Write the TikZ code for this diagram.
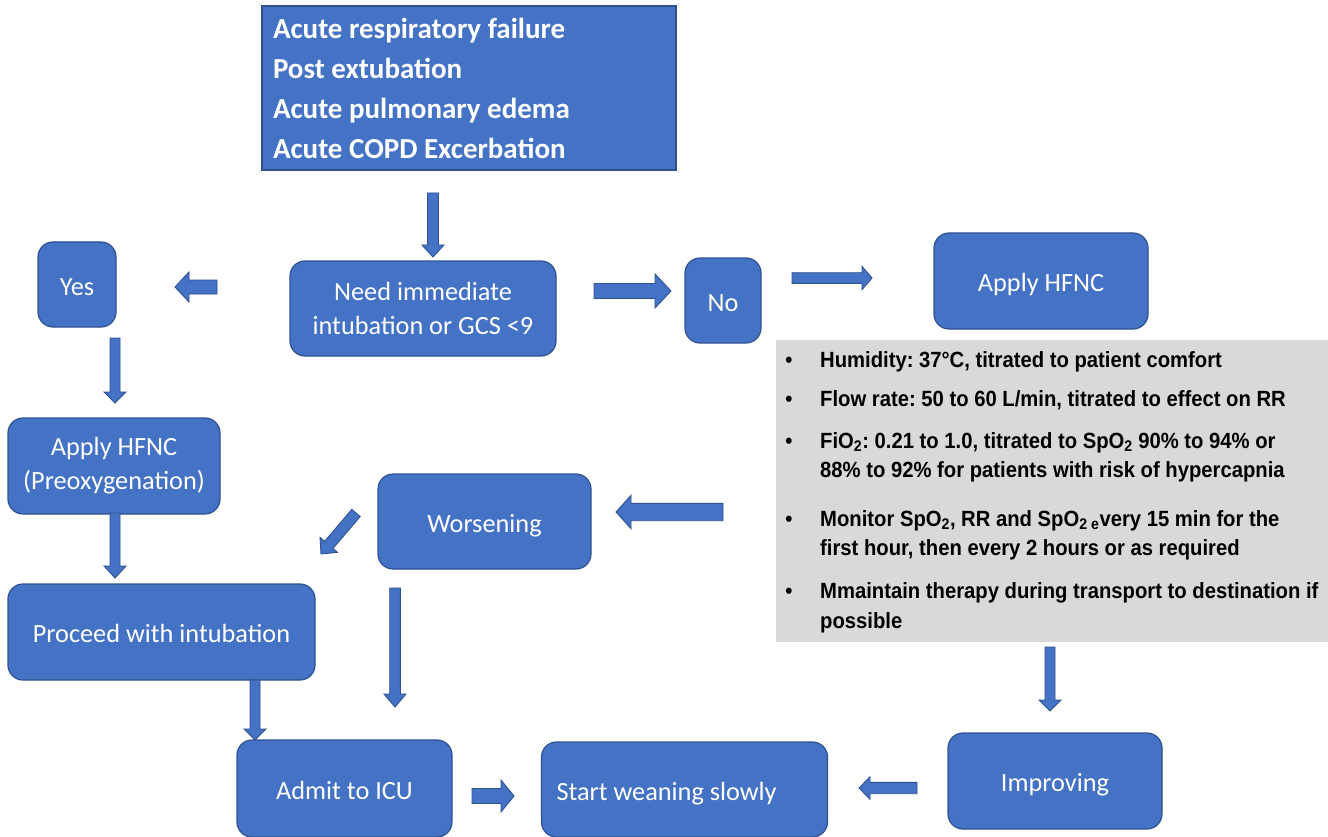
\documentclass[tikz,border=0pt]{standalone}
\usepackage{fontspec}
\setmainfont{Carlito}
\newfontfamily\arialc[FakeStretch=0.92]{Liberation Sans}
\usetikzlibrary{calc}
\definecolor{boxblue}{HTML}{4472C4}
\definecolor{boxline}{HTML}{2F528F}
\definecolor{greyfill}{HTML}{D9D9D9}
\frenchspacing
% block arrow: #1 start, #2 end, #3 shaft half width, #4 head half width, #5 head length
\newcommand\blockarrow[5]{%
  \coordinate (hb) at ($(#2)!#5pt!(#1)$);
  \path[barrow] ($(#1)!#3pt!90:(#2)$) -- ($(hb)!#3pt!90:(#2)$) -- ($(hb)!#4pt!90:(#2)$) -- (#2)
    -- ($(hb)!#4pt!-90:(#2)$) -- ($(hb)!#3pt!-90:(#2)$) -- ($(#1)!#3pt!-90:(#2)$) -- cycle;}
\begin{document}
\begin{tikzpicture}[x=1pt,y=-1pt,
  mbox/.style={rounded corners=15pt, fill=boxblue, draw=boxline, line width=1.2pt,
    text=white, font=\fontsize{26.3}{34}\selectfont, align=center, inner sep=0pt},
  box/.style={mbox, text height=21pt, text depth=0pt},
  topbox/.style={fill=boxblue, draw=boxline, line width=1.2pt, text=white,
    font=\bfseries\fontsize{29}{40}\selectfont, align=flush left, inner ysep=0pt, inner xsep=11pt},
  barrow/.style={fill=boxblue, draw=boxline, line width=0.9pt, line join=miter},
  gtxt/.style={font=\arialc\bfseries\fontsize{22}{29}\selectfont, text=black, inner sep=0pt}]
\fill[white] (0,0) rectangle (1328,837);
\useasboundingbox (0,0) rectangle (1328,837);
% boxes
\node[topbox, text width=392pt, minimum height=164pt] (top) at (469,88)
  {Acute respiratory failure\\Post extubation\\Acute pulmonary edema\\Acute COPD Excerbation};
\node[mbox, minimum width=266pt, minimum height=95pt] (need) at (423,308.5) {Need immediate\\intubation or GCS <9};
\node[box, minimum width=78pt, minimum height=85pt] (yes) at (77,284.5) {Yes};
\node[box, minimum width=76pt, minimum height=85pt] (no) at (723,300.5) {No};
\node[box, minimum width=214pt, minimum height=96pt] (hfnc) at (1041,281) {Apply HFNC};
\node[fill=greyfill, minimum width=552pt, minimum height=302pt, inner sep=0pt] (grey) at (1052,491) {};
\node[mbox, minimum width=212pt, minimum height=96pt] (pre) at (114,466) {Apply HFNC\\(Preoxygenation)};
\node[box, minimum width=307pt, minimum height=96pt] (proc) at (161.5,632) {Proceed with intubation};
\node[box, minimum width=213pt, minimum height=95pt] (wors) at (484.5,521.5) {Worsening};
\node[box, minimum width=215pt, minimum height=97pt] (icu) at (344.5,788.5) {Admit to ICU};
\node[box, text width=256pt, align=flush left, inner xsep=15pt, minimum height=95pt] (wean) at (684.5,789.5) {Start weaning slowly};
\node[box, minimum width=214pt, minimum height=96pt] (imp) at (1055,781) {Improving};
% grey box text
\foreach \yy in {367,406,448,526,598} \node[gtxt, anchor=base] at (789,\yy) {•};
\node[gtxt, anchor=base west] (g1) at (820,367) {Humidity: 37°C, titrated to patient comfort};
\node[gtxt, anchor=base west] (g2) at (820,406) {Flow rate: 50 to 60 L/min, titrated to effect on RR};
\node[gtxt, anchor=base west] (g3a) at (820,448) {FiO\textsubscript{2}: 0.21 to 1.0, titrated to SpO\textsubscript{2} 90\% to 94\% or};
\node[gtxt, anchor=base west] (g3b) at (820,477) {88\% to 92\% for patients with risk of hypercapnia};
\node[gtxt, anchor=base west] (g4a) at (820,526) {Monitor SpO\textsubscript{2}, RR and SpO\textsubscript{2 e}very 15 min for the};
\node[gtxt, anchor=base west] (g4b) at (820,555) {first hour, then every 2 hours or as required};
\node[gtxt, anchor=base west] (g5a) at (820,598) {Mmaintain therapy during transport to destination if};
\node[gtxt, anchor=base west] (g5b) at (820,628) {possible};
% arrow end points
\coordinate (a1s) at (433,193);  \coordinate (a1e) at (433,257);
\coordinate (a2s) at (217,287);  \coordinate (a2e) at (175,287);
\coordinate (a3s) at (594,291);  \coordinate (a3e) at (671,291);
\coordinate (a4s) at (792,278);  \coordinate (a4e) at (872,278);
\coordinate (a5s) at (115,338);  \coordinate (a5e) at (115,403);
\coordinate (a6s) at (115,513);  \coordinate (a6e) at (115,578);
\coordinate (a7s) at (255,680);  \coordinate (a7e) at (255,740);
\coordinate (a8s) at (395,588);  \coordinate (a8e) at (395,707);
\coordinate (a9s) at (356,513);  \coordinate (a9e) at (321,554);
\coordinate (a10s) at (472,796); \coordinate (a10e) at (514,796);
\coordinate (a11s) at (723,512); \coordinate (a11e) at (616,512);
\coordinate (a12s) at (1050,647); \coordinate (a12e) at (1050,711);
\coordinate (a13s) at (917,788); \coordinate (a13e) at (859,788);
% arrows
\blockarrow{a1s}{a1e}{5.5}{11}{12}
\blockarrow{a2s}{a2e}{7}{15}{14}
\blockarrow{a3s}{a3e}{7.5}{17}{16}
\blockarrow{a4s}{a4e}{5.3}{11.7}{10}
\blockarrow{a5s}{a5e}{5}{11}{11}
\blockarrow{a6s}{a6e}{5}{11}{12}
\blockarrow{a7s}{a7e}{5}{11}{11}
\blockarrow{a8s}{a8e}{5.3}{11}{13}
\blockarrow{a9s}{a9e}{5.5}{11.5}{12}
\blockarrow{a10s}{a10e}{7.5}{16}{13}
\blockarrow{a11s}{a11e}{8.7}{16.7}{15}
\blockarrow{a12s}{a12e}{5}{11}{11}
\blockarrow{a13s}{a13e}{5.7}{11.3}{11}
\end{tikzpicture}
\end{document}
